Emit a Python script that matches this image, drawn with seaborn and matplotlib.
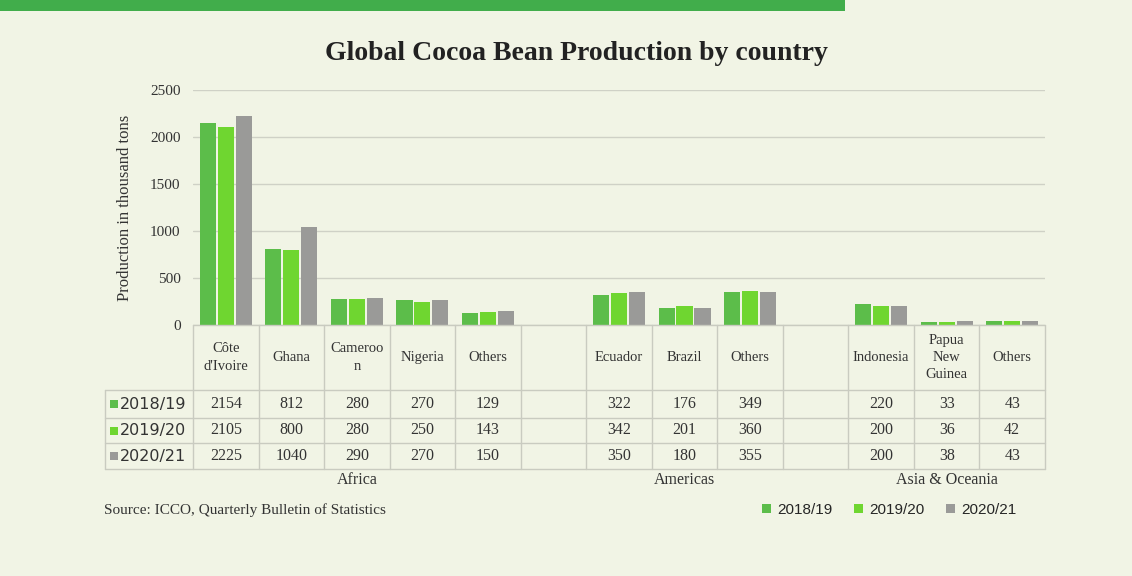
import matplotlib
matplotlib.use("Agg")
import matplotlib.pyplot as plt
import matplotlib.transforms as mtransforms
from matplotlib.patches import Rectangle
import seaborn as sns
import pandas as pd

# ---- data ----
keys = ["Côte d'Ivoire", "Ghana", "Cameroon", "Nigeria", "Others (Africa)", "gap1",
        "Ecuador", "Brazil", "Others (Americas)", "gap2",
        "Indonesia", "Papua New Guinea", "Others (Asia & Oceania)"]
header_labels = ["Côte\nd'Ivoire", "Ghana", "Cameroo\nn", "Nigeria", "Others", "",
                 "Ecuador", "Brazil", "Others", "",
                 "Indonesia", "Papua\nNew\nGuinea", "Others"]
seasons = ["2018/19", "2019/20", "2020/21"]
v_2018_19 = [2154, 812, 280, 270, 129, None, 322, 176, 349, None, 220, 33, 43]
v_2019_20 = [2105, 800, 280, 250, 143, None, 342, 201, 360, None, 200, 36, 42]
v_2020_21 = [2225, 1040, 290, 270, 150, None, 350, 180, 355, None, 200, 38, 43]
groups = ["Africa", "Americas", "Asia & Oceania"]
group_centers = [2, 7, 11]
yticks = [0, 500, 1000, 1500, 2000, 2500]

colors = ["#5cbd4a", "#6fd630", "#9a9a98"]
bg = "#f1f4e5"
grid_c = "#cfd1c6"
txt_c = "#333333"
serif = ["Liberation Serif", "DejaVu Serif"]

rows = []
for s, vals in zip(seasons, [v_2018_19, v_2019_20, v_2020_21]):
    for k, v in zip(keys, vals):
        if v is not None:
            rows.append({"key": k, "season": s, "value": v})
df = pd.DataFrame(rows)

sns.set_theme(style="white")
plt.rcParams['font.family'] = serif

W, H = 1132, 576
fig = plt.figure(figsize=(W / 100, H / 100), dpi=100, facecolor=bg)
ax = fig.add_axes([193 / W, 1 - 325 / H, (1045 - 193) / W, (325 - 90) / H])
ax.set_facecolor(bg)

sns.barplot(data=df, x="key", y="value", hue="season", order=keys, hue_order=seasons,
            palette=colors, width=0.82, gap=0.1, ax=ax, saturation=1, errorbar=None,
            linewidth=0, edgecolor="none")
leg = ax.get_legend()
handles, labels = ax.get_legend_handles_labels()
if leg is not None:
    leg.remove()

ax.set_xlim(-0.5, len(keys) - 0.5)
ax.set_ylim(0, 2500)
ax.set_yticks(yticks)
ax.set_yticklabels([str(t) for t in yticks], fontsize=11, color=txt_c)
ax.tick_params(axis="y", length=0, pad=9)
ax.set_xticks([])
ax.set_xlabel("")
ax.set_ylabel("Production in thousand tons", fontsize=12, color=txt_c, labelpad=12)
for sp in ax.spines.values():
    sp.set_visible(False)
ax.yaxis.grid(True, color=grid_c, linewidth=1)
ax.set_axisbelow(True)

# ---- data table below the axes ----
tr = mtransforms.blended_transform_factory(ax.transData, fig.transFigure)
def fy(py):
    return 1 - py / H

line_kw = dict(color="#c9cbc0", linewidth=1, transform=tr, clip_on=False)
x_left_lab = -0.5 - (193 - 105) / ((1045 - 193) / len(keys))
y_top, y_h, r1, r2, r3 = 325, 390, 418, 443, 469
ax.plot([-0.5, len(keys) - 0.5], [fy(y_top)] * 2, **line_kw)
for yy in [y_h, r1, r2, r3]:
    ax.plot([x_left_lab, len(keys) - 0.5], [fy(yy)] * 2, **line_kw)
for i in range(len(keys) + 1):
    xx = i - 0.5
    ax.plot([xx, xx], [fy(y_top), fy(r3)], **line_kw)
ax.plot([x_left_lab, x_left_lab], [fy(y_h), fy(r3)], **line_kw)

for i, lab in enumerate(header_labels):
    ax.text(i, fy((y_top + y_h) / 2), lab, transform=tr, ha="center", va="center",
            fontsize=10.5, color=txt_c, linespacing=1.4)

row_vals = [v_2018_19, v_2019_20, v_2020_21]
row_bounds = [(y_h, r1), (r1, r2), (r2, r3)]
for (a, b), s, vals, c in zip(row_bounds, seasons, row_vals, colors):
    yc = fy((a + b) / 2)
    for i, v in enumerate(vals):
        if v is not None:
            ax.text(i, yc, str(v), transform=tr, ha="center", va="center",
                    fontsize=11.5, color=txt_c)
    fig.patches.append(Rectangle((110 / W, yc - 4 / H), 8 / W, 8 / H,
                                 transform=fig.transFigure, facecolor=c, edgecolor="none"))
    fig.text(120 / W, yc, s, ha="left", va="center", fontsize=11.5, color=txt_c,
             family=["DejaVu Sans"])

for g, gc in zip(groups, group_centers):
    ax.text(gc, fy(480), g, transform=tr, ha="center", va="center", fontsize=11.5,
            color=txt_c)

# ---- decorations ----
fig.patches.append(Rectangle((0, 1 - 11 / H), 845 / W, 11 / H, transform=fig.transFigure,
                             facecolor="#41ad4b", edgecolor="none"))
fig.text(576 / W, fy(53), "Global Cocoa Bean Production by country", ha="center",
         va="center", fontsize=20, fontweight="bold", color="#222222")
fig.text(104 / W, fy(510), "Source: ICCO, Quarterly Bulletin of Statistics", ha="left",
         va="center", fontsize=11, color=txt_c)
fig.legend(handles, labels, loc="center right", bbox_to_anchor=(1030 / W, fy(510)),
           ncol=3, frameon=False, handlelength=0.6, handleheight=0.6,
           handletextpad=0.4, columnspacing=1.4,
           prop={"family": ["Liberation Sans"], "size": 11})

fig.savefig("out.png", dpi=100, facecolor=bg)
